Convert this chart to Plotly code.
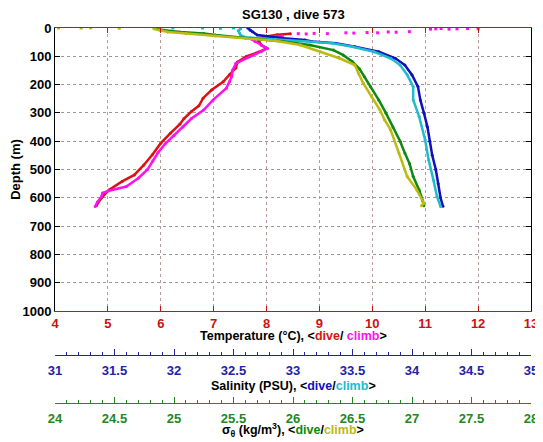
import plotly.graph_objects as go

# ---------------- data ----------------
temp_dive_depth = [20, 24, 30, 45, 60, 72, 85, 100, 120, 141, 165, 190, 219, 248, 275, 295, 320, 340,
                   372, 407, 448, 484, 519, 542, 572, 600, 628]
temp_dive = [8.45, 8.2, 8.0, 7.85, 7.9, 8.0, 7.85, 7.62, 7.45, 7.42, 7.3, 7.18, 6.96, 6.80, 6.72, 6.58,
             6.44, 6.36, 6.18, 6.00, 5.84, 5.68, 5.50, 5.27, 5.02, 4.88, 4.78]

temp_climb_depth = [631, 615, 595, 583, 575, 560, 530, 500, 470, 440, 410, 380, 350, 320, 290, 254, 213,
                    190, 172, 148, 125, 101, 84, 72, 60, 48, 40, 33, 28]
temp_climb = [4.76, 4.80, 4.88, 4.90, 5.02, 5.35, 5.58, 5.75, 5.85, 5.95, 6.08, 6.25, 6.42, 6.58, 6.81,
              6.99, 7.24, 7.30, 7.34, 7.36, 7.42, 7.69, 7.90, 8.02, 7.90, 7.78, 7.72, 7.95, 8.30]

temp_surf_depth = [20, 21, 19, 20, 17, 18, 16, 17, 14, 15, 13, 4, 3, 2, 4, 3, 2, 3]
temp_surf = [8.6, 8.75, 8.9, 9.15, 9.5, 9.65, 9.9, 10.1, 10.3, 10.45, 10.7, 11.1, 11.2, 11.3, 11.45, 11.6,
             11.8, 12.0]

sal_dive_depth = [0, 8, 13, 25, 36, 42, 48, 54, 66, 84, 107, 131, 166, 207, 254, 300, 350, 400, 450, 500,
                  550, 600, 630]
sal_dive = [32.62, 32.64, 32.66, 32.70, 32.92, 33.10, 33.16, 33.36, 33.52, 33.72, 33.86, 33.94, 34.00,
            34.05, 34.07, 34.10, 34.13, 34.15, 34.17, 34.20, 34.22, 34.24, 34.26]

sal_climb_depth = [631, 595, 537, 466, 395, 313, 254, 207, 166, 131, 107, 84, 66, 54, 48, 40, 33, 25, 18,
                   10, 3]
sal_climb = [34.24, 34.21, 34.18, 34.14, 34.11, 34.06, 34.01, 34.01, 33.96, 33.90, 33.82, 33.68, 33.50,
             33.33, 33.12, 32.85, 32.60, 32.56, 32.55, 32.54, 32.56]

sal_surf_depth = [0, 0, 1, 0]
sal_surf = [31.99, 32.24, 32.39, 32.50]

sig_dive_depth = [3, 8, 14, 19, 25, 36, 48, 60, 78, 95, 119, 145, 172, 207, 254, 300, 350, 400, 442, 480,
                  525, 572, 610, 628]
sig_dive = [24.85, 24.92, 25.05, 25.25, 25.35, 25.64, 25.92, 26.14, 26.34, 26.42, 26.50, 26.56, 26.60,
            26.65, 26.72, 26.78, 26.84, 26.90, 26.94, 26.98, 27.01, 27.06, 27.09, 27.10]

sig_climb_depth = [628, 619, 572, 525, 442, 360, 325, 289, 242, 195, 160, 131, 107, 84, 60, 45, 36, 28,
                   20, 14, 8, 3]
sig_climb = [27.08, 27.10, 27.04, 26.96, 26.89, 26.82, 26.77, 26.73, 26.66, 26.59, 26.55, 26.52, 26.39,
             26.23, 26.06, 25.85, 25.60, 25.35, 25.10, 24.95, 24.88, 24.83]

sig_surf_depth = [0, 0, 0, 1]
sig_surf = [24.03, 24.22, 24.30, 24.54]

temp_ticks = [4, 5, 6, 7, 8, 9, 10, 11, 12, 13]
sal_ticks = [31, 31.5, 32, 32.5, 33, 33.5, 34, 34.5, 35]
sig_ticks = [24, 24.5, 25, 25.5, 26, 26.5, 27, 27.5, 28]
depth_ticks = [0, 100, 200, 300, 400, 500, 600, 700, 800, 900, 1000]

# ---------------- styles ----------------
RED = "#dd1111"
MAG = "#ff11ee"
BLUE = "#1010c0"
CYAN = "#22bbcc"
GREEN = "#118811"
OLIVE = "#bbbb11"
TAX = "#cc1111"
SAX = "#2222aa"
GAX = "#228822"
FONT = "Liberation Sans, Arial, sans-serif"

def bold(vals):
    return ["<b>%g</b>" % v for v in vals]

fig = go.Figure()

def line(x, y, color, axis):
    fig.add_trace(go.Scatter(x=x, y=y, mode="lines+markers", xaxis=axis, yaxis="y",
                             line=dict(color=color, width=2.5),
                             marker=dict(color=color, size=3), hoverinfo="skip"))

def dots(x, y, color, axis):
    fig.add_trace(go.Scatter(x=x, y=y, mode="markers", xaxis=axis, yaxis="y",
                             marker=dict(color=color, size=3, symbol="square"), hoverinfo="skip"))

line(temp_dive, temp_dive_depth, RED, "x")
line(temp_climb, temp_climb_depth, MAG, "x")
dots(temp_surf, temp_surf_depth, MAG, "x")
line(sal_dive, sal_dive_depth, BLUE, "x2")
line(sal_climb, sal_climb_depth, CYAN, "x2")
dots(sal_surf, sal_surf_depth, CYAN, "x2")
line(sig_dive, sig_dive_depth, GREEN, "x3")
line(sig_climb, sig_climb_depth, OLIVE, "x3")
dots(sig_surf, sig_surf_depth, OLIVE, "x3")

# the page body adds an 8px offset; page pixel p -> paper y
H = 442.0
PH = 414.0
def py(pix):
    return (H - pix) / PH

fig.update_layout(
    width=535, height=434,
    margin=dict(l=47, r=12, t=20, b=0, autoexpand=False),
    paper_bgcolor="white", plot_bgcolor="white",
    showlegend=False,
    font=dict(family=FONT, size=13, color="black"),
    yaxis=dict(
        domain=[py(311), 1], range=[1000, 0], tickvals=depth_ticks, ticktext=bold(depth_ticks),
        ticks="inside", ticklen=5, tickcolor="black",
        showline=True, linecolor="black", linewidth=1, mirror="ticks",
        showgrid=True, gridcolor="#999999", griddash="dot", gridwidth=1,
        zeroline=False, automargin=False, tickfont=dict(family=FONT, size=13, color="black"),
        title=dict(text="<b>Depth (m)</b>", standoff=6, font=dict(size=13)),
    ),
    xaxis=dict(
        anchor="y", range=[4, 13], tickvals=temp_ticks, ticktext=bold(temp_ticks),
        ticks="inside", ticklen=5, tickcolor=TAX,
        showline=True, linecolor=TAX, linewidth=1, mirror="ticks",
        showgrid=True, gridcolor="#b89a9a", griddash="dot", gridwidth=1,
        zeroline=False, automargin=False, ticklabeloverflow="allow",
        tickfont=dict(family=FONT, size=13, color=TAX),
    ),
    xaxis2=dict(
        overlaying="x", anchor="free", position=py(355), side="bottom",
        range=[31, 35], tickvals=sal_ticks, ticktext=bold(sal_ticks),
        ticks="inside", ticklen=6, tickcolor=SAX,
        showline=True, linecolor=SAX, linewidth=1,
        showgrid=False, zeroline=False, automargin=False, ticklabeloverflow="allow",
        ticklabelstandoff=3,
        minor=dict(ticks="inside", ticklen=3, dtick=0.1, tick0=31, tickcolor=SAX, showgrid=False),
        tickfont=dict(family=FONT, size=13, color=SAX),
    ),
    xaxis3=dict(
        overlaying="x", anchor="free", position=py(403), side="bottom",
        range=[24, 28], tickvals=sig_ticks, ticktext=bold(sig_ticks),
        ticks="inside", ticklen=6, tickcolor=GAX,
        showline=True, linecolor=GAX, linewidth=1,
        showgrid=False, zeroline=False, automargin=False, ticklabeloverflow="allow",
        ticklabelstandoff=3,
        minor=dict(ticks="inside", ticklen=3, dtick=0.1, tick0=24, tickcolor=GAX, showgrid=False),
        tickfont=dict(family=FONT, size=13, color=GAX),
    ),
)

def note(text, ypix, size=12.5):
    fig.add_annotation(text=text, xref="paper", yref="paper", x=0.5, y=py(ypix),
                       xanchor="center", yanchor="middle", showarrow=False,
                       font=dict(size=size, color="black"))

note("<b>SG130 , dive 573</b>", 14, 13)
note("<b>Temperature (°C), &lt;<span style='color:#dd1111'>dive</span>/ "
     "<span style='color:#ff11ee'>climb</span>&gt;</b>", 336)
note("<b>Salinity (PSU), &lt;<span style='color:#1010c0'>dive</span>/"
     "<span style='color:#22bbcc'>climb</span>&gt;</b>", 386)
note("<b>σ<sub>θ</sub> (kg/m<sup>3</sup>), &lt;<span style='color:#118811'>dive</span>/"
     "<span style='color:#bbbb11'>climb</span>&gt;</b>", 430)

fig.write_html("out.html")
